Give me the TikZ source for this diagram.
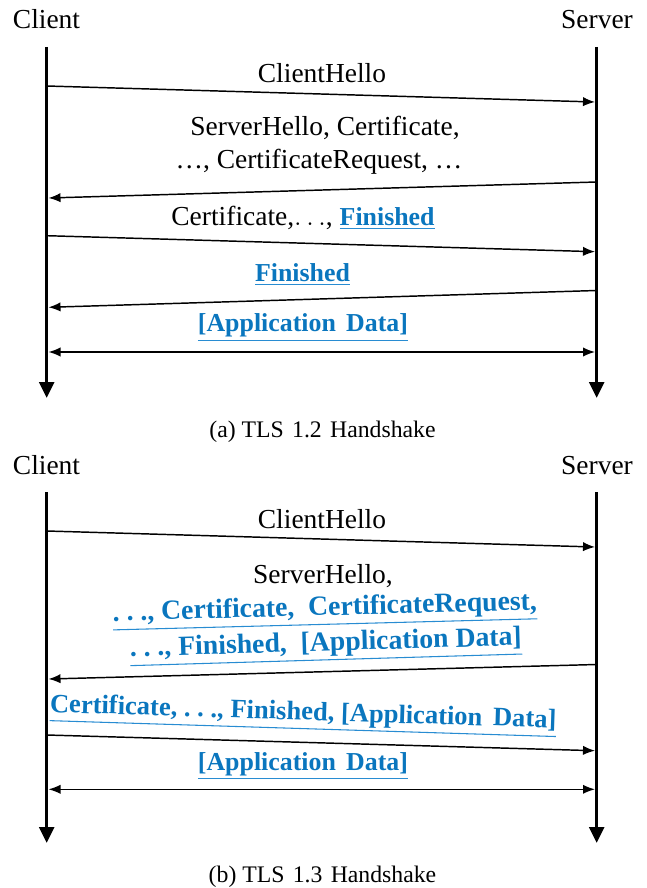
\documentclass[tikz,border=0pt]{standalone}
\usepackage{fontspec}
\setmainfont{Liberation Serif}
\usetikzlibrary{arrows.meta}
\definecolor{tlsblue}{RGB}{10,118,190}
\definecolor{ulblue}{RGB}{40,140,210}
\newcommand{\blueul}[1]{\setbox0=\hbox{#1}\rlap{\color{ulblue}\rule[\dimexpr-\dp0-2.6pt\relax]{\wd0}{0.8pt}}\box0}
\newcommand{\spdots}{.\kern.25em.\kern.25em.}
\begin{document}
\begin{tikzpicture}[x=0.75pt,y=-0.75pt,
  life/.style={line width=2.5pt,-{Triangle[length=12pt,width=11pt]}},
  msg/.style={line width=1.1pt,-{Latex[length=9pt,width=7pt]}},
  dmsg/.style={line width=1.1pt,{Latex[length=9pt,width=7pt]}-{Latex[length=9pt,width=7pt]}},
  lbl/.style={anchor=base,inner sep=0pt,font=\fontsize{20.6pt}{24pt}\selectfont},
  captext/.style={anchor=base,inner sep=0pt,font=\fontsize{17.8pt}{22pt}\selectfont},
  bl/.style={anchor=base,inner sep=0pt,text=tlsblue,font=\fontsize{19.4pt}{24pt}\selectfont\bfseries},
  blbig/.style={bl,font=\fontsize{20.8pt}{24pt}\selectfont\bfseries},
  blmid/.style={bl,font=\fontsize{19.9pt}{24pt}\selectfont\bfseries}]
\useasboundingbox (0,0) rectangle (646,888);

% ---------------- TLS 1.2 ----------------
\node[lbl] (cl1) at (46.5,29) {Client};
\node[lbl] (sv1) at (597,29) {Server};
\coordinate (ct1) at (46.7,47);
\coordinate (cb1) at (46.7,398);
\coordinate (st1) at (596.7,47);
\coordinate (sb1) at (596.7,398);
\draw[life] (ct1) -- (cb1);
\draw[life] (st1) -- (sb1);

\node[lbl] (t11) at (322,83) {ClientHello};
\coordinate (a1s) at (46.7,86);  \coordinate (a1e) at (595,102);
\draw[msg] (a1s) -- (a1e);

\node[lbl] (t12a) at (325,136) {ServerHello, Certificate,};
\node[lbl] (t12b) at (319,169) {…, CertificateRequest, …};
\coordinate (a2s) at (596.7,182); \coordinate (a2e) at (48.5,198);
\draw[msg] (a2s) -- (a2e);

\node[lbl] (t13) at (303,225) {Certificate,$\ldots$, \textcolor{tlsblue}{\fontsize{19.4pt}{24pt}\selectfont\bfseries\blueul{Finished}}};
\coordinate (a3s) at (46.7,235.7); \coordinate (a3e) at (595,251.7);
\draw[msg] (a3s) -- (a3e);

\node[bl] (t14) at (302.5,281) {\blueul{Finished}};
\coordinate (a4s) at (596.7,290.5); \coordinate (a4e) at (48.5,307.3);
\draw[msg] (a4s) -- (a4e);

\node[bl] (t15) at (303,331.7) {\blueul{[Application\hspace{0.4em}Data]}};
\coordinate (a5s) at (48.5,352); \coordinate (a5e) at (595,352);
\draw[dmsg] (a5s) -- (a5e);

\node[captext] (cap1) at (322.5,437.3) {(a) TLS\hspace{0.35em}1.2\hspace{0.35em}Handshake};

% ---------------- TLS 1.3 ----------------
\node[lbl] (cl2) at (46.5,474) {Client};
\node[lbl] (sv2) at (597,474) {Server};
\coordinate (ct2) at (46.7,492);
\coordinate (cb2) at (46.7,843);
\coordinate (st2) at (596.7,492);
\coordinate (sb2) at (596.7,843);
\draw[life] (ct2) -- (cb2);
\draw[life] (st2) -- (sb2);

\node[lbl] (t21) at (322,528) {ClientHello};
\coordinate (b1s) at (46.7,531); \coordinate (b1e) at (595,547);
\draw[msg] (b1s) -- (b1e);

\node[lbl] (t22a) at (323,583) {ServerHello,};
\node[blbig,rotate=1.5] (t22b) at (325,615.5) {\blueul{\spdots, Certificate, \ CertificateRequest,}};
\node[blbig,rotate=1.7] (t22c) at (326,651) {\blueul{\spdots, Finished, \ [Application Data]}};
\coordinate (b2s) at (596.7,664.5); \coordinate (b2e) at (48.5,679);
\draw[msg] (b2s) -- (b2e);

\node[blmid,rotate=-1.8] (t23) at (303,720) {\blueul{Certificate, \spdots, Finished, [Application\hspace{0.4em}Data]}};
\coordinate (b3s) at (46.7,735); \coordinate (b3e) at (595,750.7);
\draw[msg] (b3s) -- (b3e);

\node[bl] (t24) at (303,770) {\blueul{[Application\hspace{0.4em}Data]}};
\coordinate (b4s) at (48.5,789.3); \coordinate (b4e) at (595,789.3);
\draw[dmsg] (b4s) -- (b4e);

\node[captext] (cap2) at (322.5,882) {(b) TLS\hspace{0.35em}1.3\hspace{0.35em}Handshake};
\end{tikzpicture}
\end{document}
